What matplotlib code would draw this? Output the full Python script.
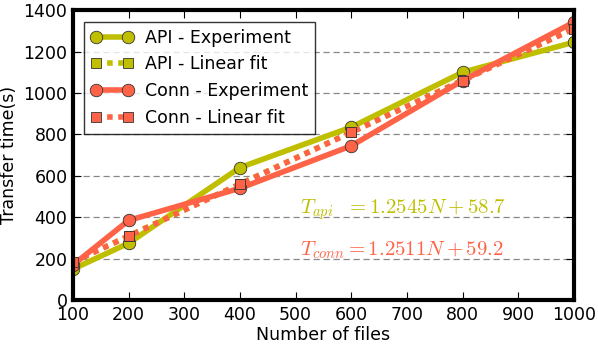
import matplotlib
matplotlib.use("Agg")
import matplotlib.pyplot as plt

plt.rcParams['mathtext.fontset'] = 'cm'
plt.rcParams['font.family'] = 'DejaVu Sans'

# Data
files = [100, 200, 400, 600, 800, 1000]
api_exp = [150, 275, 640, 835, 1100, 1245]
api_fit = [184, 310, 561, 811, 1062, 1313]
conn_exp = [170, 385, 540, 745, 1060, 1342]
conn_fit = [184, 309, 560, 810, 1060, 1310]

c_api = '#bfbf00'
c_conn = '#ff6347'

fig = plt.figure(figsize=(5.98, 3.47), dpi=100)
ax = fig.add_axes([0.122, 0.135, 0.838, 0.836])

ax.plot(files, api_exp, '-o', color=c_api, lw=4, ms=9, mec='#333333', mew=0.6,
        label='API - Experiment')
ax.plot(files, api_fit, 's', ls=(0, (1, 1)), color=c_api, lw=4, ms=7, mec='#333333',
        mew=0.6, label='API - Linear fit')
ax.plot(files, conn_exp, '-o', color=c_conn, lw=4, ms=9, mec='#333333', mew=0.6,
        label='Conn - Experiment')
ax.plot(files, conn_fit, 's', ls=(0, (1, 1)), color=c_conn, lw=4, ms=7, mec='#333333',
        mew=0.6, label='Conn - Linear fit')

ax.set_xlim(100, 1000)
ax.set_ylim(0, 1400)
ax.set_xticks(range(100, 1001, 100))
ax.set_yticks(range(0, 1401, 200))
ax.yaxis.grid(True, ls=(0, (5, 3)), color='#888888', lw=0.9)
ax.set_axisbelow(True)
ax.tick_params(direction='in', top=True, right=True, length=6, width=0.8,
               labelsize=12.5, pad=4)
for s in ax.spines.values():
    s.set_linewidth(3)

ax.set_xlabel('Number of files', fontsize=12.5, labelpad=2)
ax.set_ylabel('Transfer time(s)', fontsize=12.5, labelpad=4)

ax.text(507, 420, r'$T_{api}\ \ =1.2545N+58.7$', color=c_api, fontsize=15)
ax.text(507, 218, r'$T_{conn}=1.2511N+59.2$', color=c_conn, fontsize=15)

leg = ax.legend(loc='upper left', numpoints=2, fontsize=12.5, fancybox=False,
                handlelength=2.4, handletextpad=0.7, borderaxespad=0.5,
                labelspacing=0.5, bbox_to_anchor=(0.005, 0.99))
leg.get_frame().set_edgecolor('black')
leg.get_frame().set_linewidth(1)

fig.savefig('out.png', dpi=100)
